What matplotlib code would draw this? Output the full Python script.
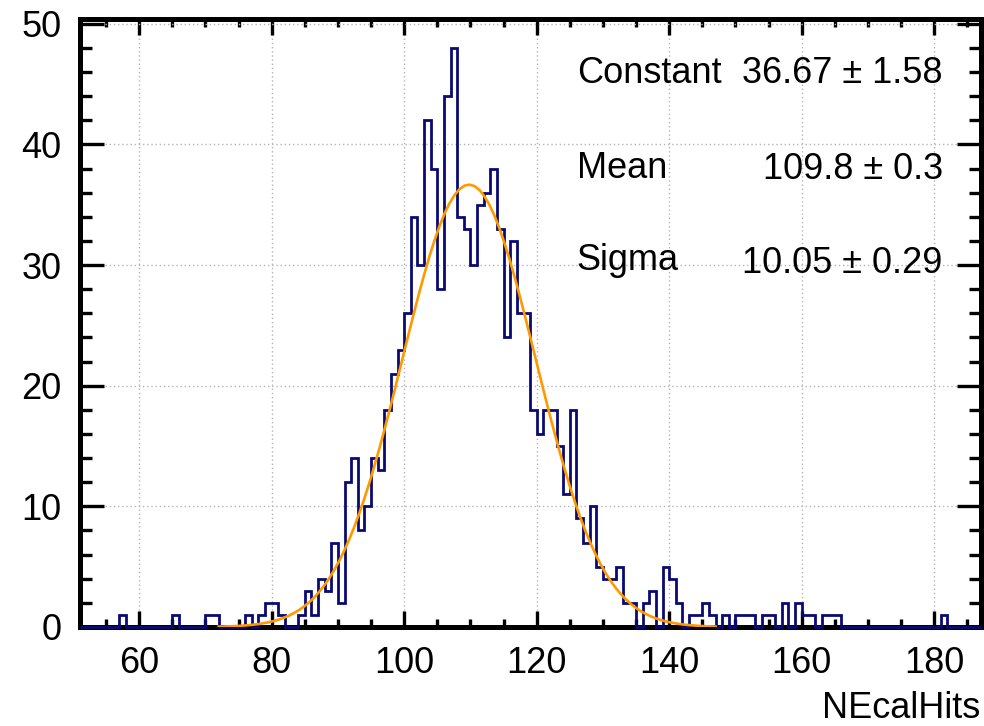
import numpy as np
import matplotlib
matplotlib.use("Agg")
import matplotlib.pyplot as plt
from matplotlib.ticker import MultipleLocator

plt.rcParams['font.family'] = ['Liberation Sans', 'DejaVu Sans']

# NEcalHits histogram: unit-width bins from 51 to 187
edges = np.arange(51, 188)
counts = [
    0, 0, 0, 0, 0, 0,                      # 51-56
    1,                                     # 57
    0, 0, 0, 0, 0, 0, 0,                   # 58-64
    1,                                     # 65
    0, 0, 0, 0,                            # 66-69
    1, 1,                                  # 70-71
    0, 0, 0, 0,                            # 72-75
    1, 0, 1, 2, 2, 1, 0, 0,                # 76-83
    1, 3, 1, 4, 3, 7, 2,                   # 84-90
    12, 14, 8, 10, 14, 13, 18, 21, 23, 26,  # 91-100
    34, 30, 42, 38, 28, 44, 48, 34, 33, 30,  # 101-110
    35, 36, 38, 33, 24, 32, 26, 26, 18, 16,  # 111-120
    18, 18, 15, 11, 18, 9, 7, 10, 5, 4,      # 121-130
    4, 5, 2, 2, 0, 2, 3, 0, 5, 4,            # 131-140
    2, 0, 1, 1, 2, 1, 0, 1, 0, 1,            # 141-150
    1, 1, 0, 1, 1, 0, 2, 0, 2, 1,            # 151-160
    1, 0, 1, 1, 1, 0, 0, 0, 0, 0,            # 161-170
    0, 0, 0, 0, 0, 0, 0, 0, 0, 0,            # 171-180
    1,                                     # 181
    0, 0, 0, 0, 0,                         # 182-186
]

# Gaussian fit result
fit_const, fit_const_err = 36.67, 1.58
fit_mean, fit_mean_err = 109.8, 0.3
fit_sigma, fit_sigma_err = 10.05, 0.29
fit_range = (72.0, 147.0)

W, H = 984, 726
fig = plt.figure(figsize=(W / 100, H / 100), dpi=100)
left_px, right_px, top_px, bot_px = 79.5, 980.5, 19.0, 627.0
ax = fig.add_axes([left_px / W, 1 - bot_px / H,
                   (right_px - left_px) / W, (bot_px - top_px) / H])

navy = '#0a0a72'
orange = '#ff9900'

ax.stairs(counts, edges, color=navy, linewidth=2.0, zorder=3, clip_on=False)

xf = np.linspace(fit_range[0], fit_range[1], 100)
yf = fit_const * np.exp(-0.5 * ((xf - fit_mean) / fit_sigma) ** 2)
ax.plot(xf, yf, color=orange, linewidth=1.9, zorder=4)

ax.set_xlim(51, 187)
ax.set_ylim(0, 1.05 * max(counts))

ax.xaxis.set_major_locator(MultipleLocator(20))
ax.xaxis.set_minor_locator(MultipleLocator(5))
ax.yaxis.set_major_locator(MultipleLocator(10))
ax.yaxis.set_minor_locator(MultipleLocator(2))

ax.tick_params(axis='both', which='both', direction='in',
               top=True, right=True, width=2.4, color='black')
ax.tick_params(axis='x', which='major', length=11.5, pad=14, labelsize=26)
ax.tick_params(axis='x', which='minor', length=5.8)
ax.tick_params(axis='y', which='major', length=17.5, pad=13, labelsize=26)
ax.tick_params(axis='y', which='minor', length=8.5)

for sp in ax.spines.values():
    sp.set_linewidth(3.6)
    sp.set_zorder(2.5)

ax.grid(True, which='major', color='#b4b4b4', linestyle=(0, (1, 2)), linewidth=1.0)
ax.set_axisbelow(True)

fig.text(980 / W, 1 - 718 / H, 'NEcalHits', ha='right', va='baseline', fontsize=26)

# Fit parameter box
rows = [
    ('Constant', f'{fit_const:.2f} \u00b1 {fit_const_err:.2f}', 83.3, 83.3),
    ('Mean', f'{fit_mean:.1f} \u00b1 {fit_mean_err:.1f}', 178.3, 179.0),
    ('Sigma', f'{fit_sigma:.2f} \u00b1 {fit_sigma_err:.2f}', 270.0, 273.0),
]
for name, val, yl, yv in rows:
    fig.text(576.7 / W, 1 - yl / H, name, ha='left', va='baseline', fontsize=26)
    fig.text(942.7 / W, 1 - yv / H, val, ha='right', va='baseline', fontsize=26)

fig.savefig('out.png', dpi=100)
